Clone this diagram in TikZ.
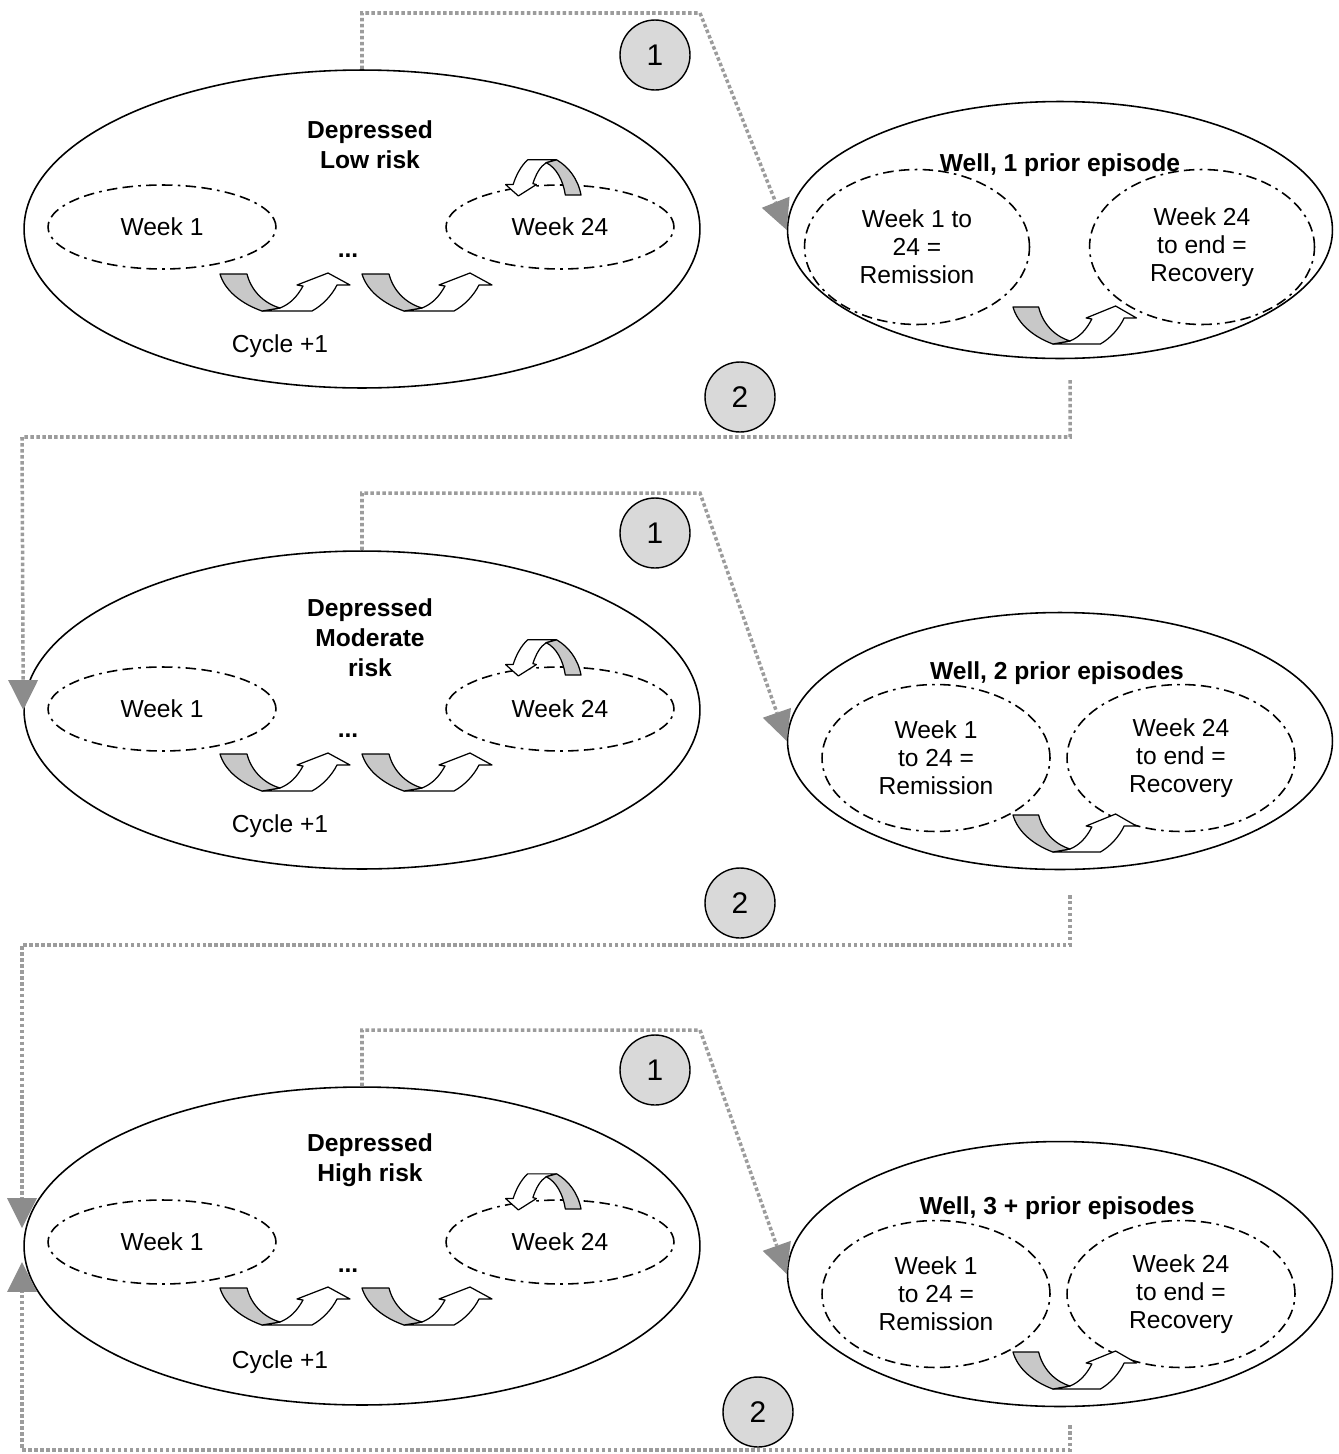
\documentclass[tikz,border=0pt]{standalone}
\usepackage{fontspec}
\setmainfont{Liberation Sans}
\usetikzlibrary{shapes.geometric,arrows.meta}
\definecolor{connc}{HTML}{9C9C9C}
\definecolor{headc}{HTML}{8C8C8C}
\definecolor{shadec}{HTML}{C8C8C8}
\definecolor{circc}{HTML}{D9D9D9}
\tikzset{
  depell/.style={ellipse, draw, line width=0.9pt, minimum width=13.52cm, minimum height=6.36cm, inner sep=0pt},
  wellell/.style={ellipse, draw, line width=0.9pt, minimum width=10.9cm, minimum height=5.14cm, inner sep=0pt},
  dashell/.style={ellipse, draw, line width=0.9pt, dash pattern=on 6pt off 3pt on 6pt off 3pt on 1.5pt off 3pt, inner sep=0pt, align=center, font=\fontsize{14}{16}\selectfont},
  wkell/.style={dashell, minimum width=4.56cm, minimum height=1.68cm},
  remell/.style={dashell, minimum width=4.5cm, minimum height=3.1cm},
  remellb/.style={dashell, minimum width=4.56cm, minimum height=2.94cm},
  numc/.style={circle, draw, line width=0.8pt, fill=circc, minimum size=1.4cm, inner sep=0pt, font=\fontsize{17}{20}\selectfont},
  lbl/.style={inner sep=0pt, align=center, font=\fontsize{14}{16}\selectfont},
  ttl/.style={inner sep=0pt, align=center, font=\bfseries\fontsize{14}{17}\selectfont},
  connline/.style={draw=connc, line width=2pt, dash pattern=on 2pt off 1.4pt,
     -{Triangle[length=17pt,width=17pt,color=headc,line width=0pt]}},
  uarrow/.pic={
    \draw[line width=0.7pt, fill=white, line join=round]
      (42,37) -- (92,37) .. controls (103,31) and (112,21) .. (117,11)
      -- (130,11) -- (108,-1) -- (77,11) -- (83,12)
      .. controls (77,23) and (70,30) .. (60,34) -- cycle;
    \draw[line width=0.7pt, fill=shadec, line join=round]
      (0,0) -- (27,0) .. controls (31,16) and (43,29) .. (60,34)
      -- (42,37) .. controls (22,30) and (5,17) .. (0,0) -- cycle;
  }
}
\begin{document}
\begin{tikzpicture}[x=0.02cm, y=-0.02cm]
\fill[white] (0,0) rectangle (1339,1454);
\useasboundingbox (0,0) rectangle (1339,1454);

% ---------- outer ellipses ----------
\node[depell] (dep1) at (362,229) {};
\node[depell] (dep2) at (362,710) {};
\node[depell] (dep3) at (362,1246) {};
\node[wellell] (well1) at (1060,230) {};
\node[wellell] (well2) at (1060,741) {};
\node[wellell, minimum height=5.3cm] (well3) at (1060,1274) {};

% ---------- inner ellipses of depressed states ----------
\node[wkell] (w1a) at (162,227) {Week 1};
\node[wkell] (w24a) at (560,227) {Week 24};
\node[wkell] (w1b) at (162,709) {Week 1};
\node[wkell] (w24b) at (560,709) {Week 24};
\node[wkell] (w1c) at (162,1242) {Week 1};
\node[wkell] (w24c) at (560,1242) {Week 24};

% ---------- inner ellipses of well states ----------
\node[remell] (rem1) at (917,247) {Week 1 to\\24 =\\Remission};
\node[remell] (rec1) at (1202,247) {Week 24\\to end =\\Recovery};
\node[remellb] (rem2) at (936,758) {Week 1\\to 24 =\\Remission};
\node[remellb] (rec2) at (1181,758) {Week 24\\to end =\\Recovery};
\node[remellb] (rem3) at (936,1294) {Week 1\\to 24 =\\Remission};
\node[remellb] (rec3) at (1181,1294) {Week 24\\to end =\\Recovery};

% ---------- curved arrows ----------
\pic at (220,274) {uarrow};
\pic at (362,274) {uarrow};
\pic[xscale=-0.58, yscale=-0.95] at (581,195) {uarrow};
\pic at (220,754) {uarrow};
\pic at (362,754) {uarrow};
\pic[xscale=-0.58, yscale=-0.95] at (581,675) {uarrow};
\pic at (220,1288) {uarrow};
\pic at (362,1288) {uarrow};
\pic[xscale=-0.58, yscale=-0.95] at (581,1209) {uarrow};
\pic[xscale=0.95] at (1013,307) {uarrow};
\pic[xscale=0.95] at (1013,815) {uarrow};
\pic[xscale=0.95] at (1013,1352) {uarrow};

% ---------- titles and labels ----------
\node[ttl] (t1) at (370,145) {Depressed\\Low risk};
\node[ttl] (t2) at (370,638) {Depressed\\Moderate\\risk};
\node[ttl] (t3) at (370,1160) {Depressed\\High risk};
\node[ttl] (d1) at (348,256) {...};
\node[ttl] (d2) at (348,736) {...};
\node[ttl] (d3) at (348,1271) {...};
\node[lbl] (c1) at (280,346) {Cycle +1};
\node[lbl] (c2) at (280,826) {Cycle +1};
\node[lbl] (c3) at (280,1362) {Cycle +1};
\node[ttl] (wt1) at (1060,165) {Well, 1 prior episode};
\node[ttl] (wt2) at (1057,673) {Well, 2 prior episodes};
\node[ttl] (wt3) at (1057,1208) {Well, 3 + prior episodes};

% ---------- numbered circles ----------
\node[numc] (n1a) at (655,55) {1};
\node[numc] (n2a) at (740,397) {2};
\node[numc] (n1b) at (655,533) {1};
\node[numc] (n2b) at (740,903) {2};
\node[numc] (n1c) at (655,1070) {1};
\node[numc] (n2c) at (758,1412) {2};

% ---------- connector coordinates ----------
\coordinate (k1) at (700,13);
\coordinate (k2) at (700,493);
\coordinate (k3) at (700,1030);
\coordinate (b1s) at (1070,380);
\coordinate (b1c) at (22,437);
\coordinate (b2s) at (1070,895);
\coordinate (b2c) at (22,945);
\coordinate (t2d) at (22,1228);
\coordinate (b3s) at (1070,1425);
\coordinate (b3c) at (22,1450);
\coordinate (t3u) at (22,1262);

% ---------- connectors ----------
\draw[connline] (dep1.north) |- (k1) -- (well1.west);
\draw[connline] (b1s) |- (b1c) -- (dep2.west);
\draw[connline] (dep2.north) |- (k2) -- (well2.west);
\draw[connline] (b2s) |- (b2c) -- (t2d);
\draw[connline] (dep3.north) |- (k3) -- (well3.west);
\draw[connline] (b3s) |- (b3c) -- (t3u);
\end{tikzpicture}
\end{document}
